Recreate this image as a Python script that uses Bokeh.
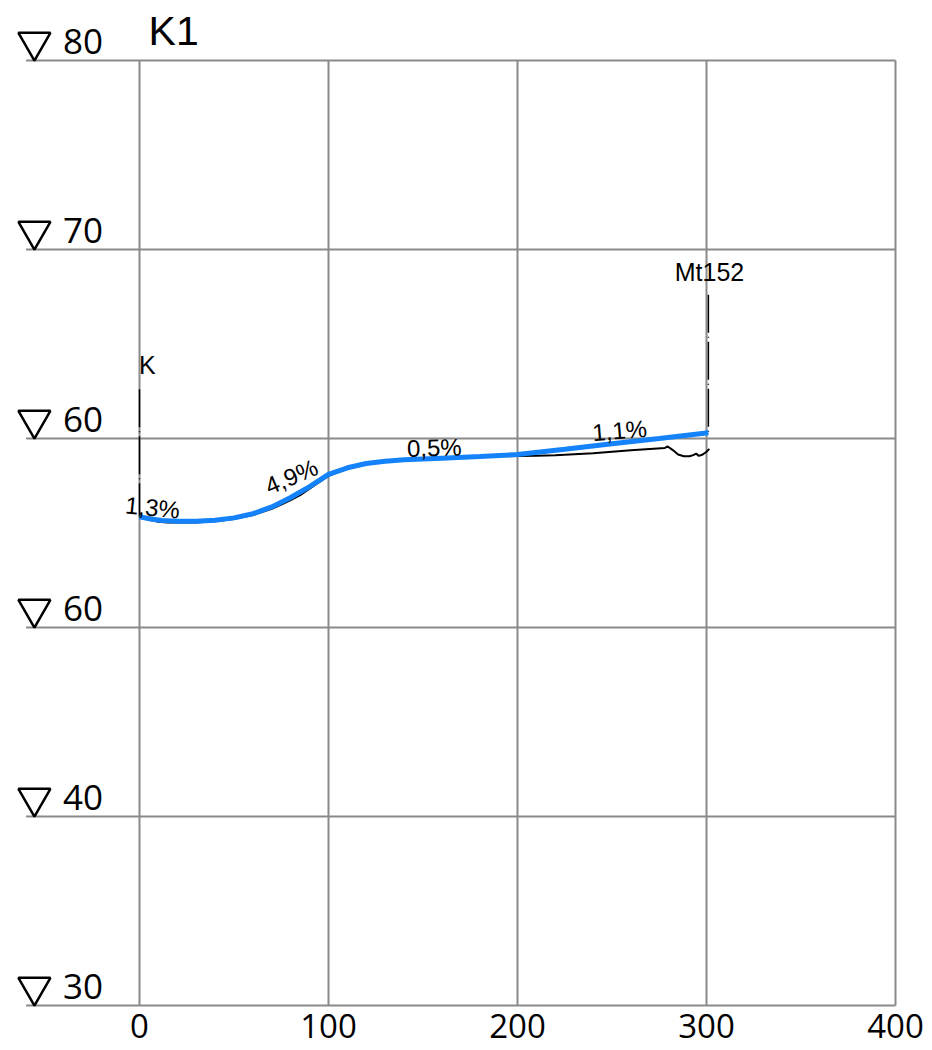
import numpy as np
from bokeh.plotting import figure
from bokeh.models import ColumnDataSource, Range1d
from bokeh.core.properties import value
from bokeh.embed import file_html
from bokeh.resources import INLINE

# ---------------- data ----------------
x_ticks = [0, 100, 200, 300, 400]
x_tick_labels = ["0", "100", "200", "300", "400"]
y_ticks = [80, 70, 60, 50, 40, 30]
y_tick_labels = ["80", "70", "60", "60", "40", "30"]

# design profile (blue)
design_x = [0, 6, 12, 20, 30, 40, 50, 60, 70, 80, 90, 100, 110, 120, 130, 140,
            160, 180, 200, 225, 250, 275, 301]
design_y = [55.86, 55.74, 55.66, 55.62, 55.62, 55.68, 55.80, 56.02, 56.38, 56.88,
            57.45, 58.10, 58.45, 58.68, 58.80, 58.87, 58.96, 59.05, 59.15, 59.43,
            59.72, 60.00, 60.30]

# existing ground (black)
ground_x = [0, 5, 10, 15, 20, 30, 40, 50, 60, 70, 75, 80, 85, 90, 100, 110, 120,
            130, 140, 160, 180, 200, 210, 220, 230, 240, 250, 260, 270, 278, 279.5,
            282, 285, 288, 291, 293, 294.5, 296, 298, 300, 301.5]
ground_y = [55.82, 55.70, 55.60, 55.56, 55.55, 55.56, 55.62, 55.74, 55.95, 56.28,
            56.50, 56.74, 57.00, 57.35, 58.02, 58.40, 58.65, 58.78, 58.85, 58.95,
            59.03, 59.08, 59.09, 59.12, 59.17, 59.22, 59.30, 59.38, 59.45, 59.50,
            59.58, 59.40, 59.15, 59.06, 59.06, 59.12, 59.20, 59.08, 59.15, 59.30,
            59.45]

# stations
station_x = [0, 301]
station_bottom = [55.86, 60.30]
station_top = [62.6, 67.6]
station_names = ["K", "Mt152"]

# slope labels
slope_labels = ["1,3%", "4,9%", "0,5%", "1,1%"]
slope_x = [6.9, 80.4, 156.0, 254.0]
slope_y = [56.35, 57.99, 59.52, 60.42]
slope_angle = [-0.10, 0.40, 0.03, 0.08]

title_text = "K1"

# ---------------- layout ----------------
W, H = 930, 1048
SX = 1.89    # px per x unit
SY = 18.9    # px per y unit
x0 = -139 / SX
y1 = 80 + 60 / SY

p = figure(width=W, height=H,
           x_range=Range1d(x0, x0 + W / SX),
           y_range=Range1d(y1 - H / SY, y1),
           x_axis_location=None, y_axis_location=None,
           toolbar_location=None, output_backend="svg", min_border=0)
p.grid.visible = False
p.outline_line_color = None
p.background_fill_color = "white"
p.border_fill_color = "white"

grid_color = "#8a8a8a"
x_min, x_max = -60, max(x_ticks)
y_min, y_max = min(y_ticks), max(y_ticks)

# grid lines
p.segment(x0=x_ticks, y0=[y_min] * len(x_ticks), x1=x_ticks, y1=[y_max] * len(x_ticks),
          line_color=grid_color, line_width=2)
p.segment(x0=[x_min] * len(y_ticks), y0=y_ticks, x1=[x_max] * len(y_ticks), y1=y_ticks,
          line_color=grid_color, line_width=2)

# level triangles and labels
tri_dy = (2.0 / 3.0) * (32 * np.sqrt(3) / 2) / SY
p.scatter(x=[-55.6] * len(y_ticks), y=[v + tri_dy for v in y_ticks],
          marker="inverted_triangle", size=32, fill_color=None,
          line_color="black", line_width=2.5)
p.text(x=[-40.5] * len(y_ticks), y=[v + 19 / SY for v in y_ticks], text=y_tick_labels,
       text_font=value("Open Sans"), text_font_size="35px", text_align="left",
       text_baseline="middle", text_color="black")

# x tick labels
p.text(x=x_ticks, y=[y_min - 20 / SY] * len(x_ticks), text=x_tick_labels,
       text_font=value("Open Sans"), text_font_size="33px", text_align="center",
       text_baseline="middle", text_color="black")

# station lines
p.segment(x0=station_x, y0=station_top, x1=station_x, y1=station_bottom,
          line_color="black", line_width=1.5, line_dash="38 4 1 4")

# profiles
p.line(ground_x, ground_y, line_color="black", line_width=2)
p.line(design_x, design_y, line_color="#1482fa", line_width=5)

# station names
p.text(x=[station_x[0] - 0.3], y=[station_top[0] + 24 / SY], text=[station_names[0]],
       text_font=value("Liberation Sans"), text_font_size="25px", text_align="left",
       text_baseline="middle", text_color="black")
p.text(x=[station_x[1] + 0.6], y=[station_top[1] + 23 / SY], text=[station_names[1]],
       text_font=value("Liberation Sans"), text_font_size="25px", text_align="center",
       text_baseline="middle", text_color="black")

# slope labels
src = ColumnDataSource(dict(x=slope_x, y=slope_y, t=slope_labels, a=slope_angle))
p.text(x="x", y="y", text="t", angle="a", source=src,
       text_font=value("Liberation Sans"), text_font_size="24px", text_align="center",
       text_baseline="middle", text_color="black")

# title
p.text(x=[4.8], y=[80 + 30 / SY], text=[title_text],
       text_font=value("Liberation Sans"), text_font_size="41px", text_align="left",
       text_baseline="middle", text_color="black")

open("out.html", "w").write(file_html(p, INLINE))
